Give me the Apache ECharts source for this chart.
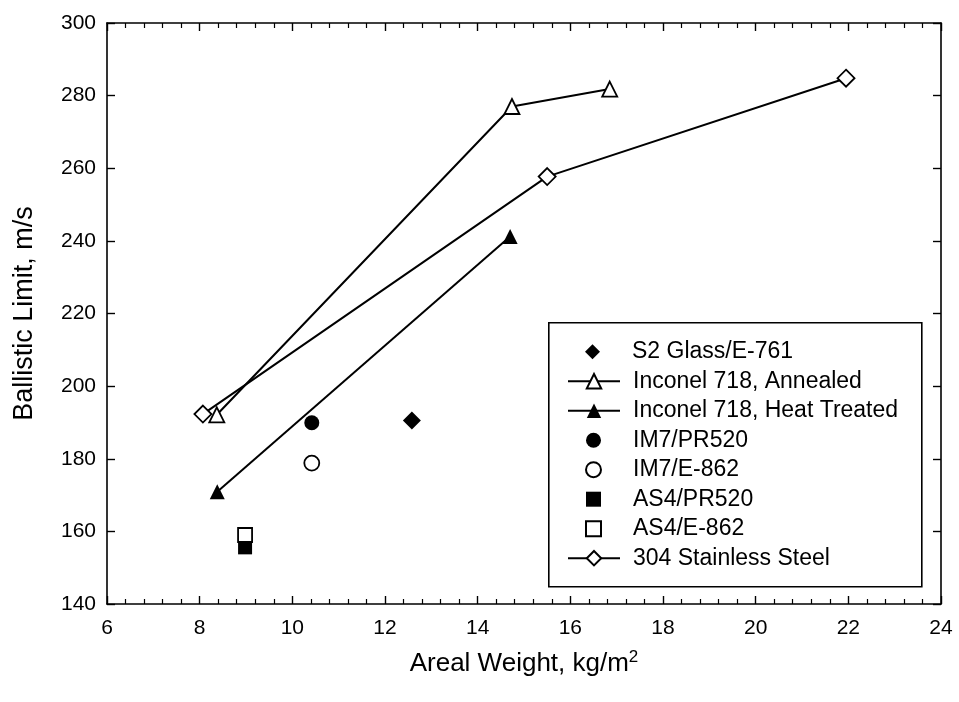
<!DOCTYPE html>
<html>
<head>
<meta charset="utf-8">
<script src="https://cdn.jsdelivr.net/npm/echarts@6/dist/echarts.min.js"></script>
<style>
html,body{margin:0;padding:0;background:#fff;}
#chart{width:959px;height:702px;}
</style>
</head>
<body>
<div id="chart"></div>
<script>
// ---- data ----
const seriesNames = ["S2 Glass/E-761","Inconel 718, Annealed","Inconel 718, Heat Treated","IM7/PR520","IM7/E-862","AS4/PR520","AS4/E-862","304 Stainless Steel"];
const s2GlassX = [12.58];          const s2GlassY = [190.5];
const inconelAnnX = [8.37, 14.74, 16.85];  const inconelAnnY = [192.1, 277.0, 281.8];
const inconelHtX = [8.38, 14.70];  const inconelHtY = [170.9, 241.2];
const im7Pr520X = [10.42];         const im7Pr520Y = [189.9];
const im7E862X = [10.42];          const im7E862Y = [178.8];
const as4Pr520X = [8.98];          const as4Pr520Y = [155.6];
const as4E862X = [8.98];           const as4E862Y = [159.0];
const ssX = [8.07, 15.50, 21.95];  const ssY = [192.3, 257.7, 284.8];
const xTicks = [6, 8, 10, 12, 14, 16, 18, 20, 22, 24];
const yTicks = [140, 160, 180, 200, 220, 240, 260, 280, 300];

const zip = (xs, ys) => xs.map((x, i) => [x, ys[i]]);
const FONT = "'Liberation Sans', Arial, sans-serif";

const chart = echarts.init(document.getElementById('chart'), null, {renderer: 'canvas'});

function scatterS(name, xs, ys, symbol, size, filled, z) {
  return {
    name, type: 'scatter', data: zip(xs, ys), symbol, symbolSize: size, z: z || 3,
    symbolKeepAspect: true,
    itemStyle: {color: filled ? '#000' : '#fff', borderColor: '#000', borderWidth: filled ? 0 : 1.8, opacity: 1},
    emphasis: {disabled: true}
  };
}
function lineS(name, xs, ys, symbol, size, filled) {
  return {
    name, type: 'line', data: zip(xs, ys), symbol, symbolSize: size, showSymbol: true,
    symbolKeepAspect: true,
    lineStyle: {color: '#000', width: 2},
    itemStyle: {color: filled ? '#000' : '#fff', borderColor: '#000', borderWidth: filled ? 0 : 1.8},
    emphasis: {disabled: true}, z: 2
  };
}

const axisCommon = {
  axisLine: {show: true, onZero: false, lineStyle: {color: '#000', width: 1.6}},
  splitLine: {show: false},
};

// legend rows (row pitch ~29.5px, first row centre ~351.7)
const ROW0 = 351.7, PITCH = 29.5;
function lineLegend(names, row) {
  return {
    orient: 'vertical', left: 567, top: ROW0 + row * PITCH - 12, padding: 0,
    itemWidth: 52, itemHeight: 18, itemGap: PITCH - 24,
    data: names, selectedMode: false,
    textStyle: {fontSize: 23, fontFamily: FONT, color: '#000', lineHeight: 24, padding: [0, 0, 0, 8]}
  };
}
function pointLegend(names, row) {
  return {
    orient: 'vertical', left: 585, top: ROW0 + row * PITCH - 12, padding: 0,
    itemWidth: 15, itemHeight: 15, itemGap: PITCH - 24,
    data: names, selectedMode: false,
    textStyle: {fontSize: 23, fontFamily: FONT, color: '#000', lineHeight: 24, padding: [0, 0, 0, 27]}
  };
}

const option = {
  animation: false,
  backgroundColor: '#fff',
  textStyle: {fontFamily: FONT, color: '#000'},
  grid: {left: 107, right: 18, top: 23, bottom: 98, containLabel: false},
  xAxis: [
    Object.assign({}, axisCommon, {
      type: 'value', min: xTicks[0], max: xTicks[xTicks.length - 1], interval: 2, position: 'bottom',
      name: 'Areal Weight, kg/m{sup|2}', nameLocation: 'middle', nameGap: 45,
      nameTextStyle: {fontSize: 26, fontFamily: FONT, color: '#000',
        rich: {sup: {fontSize: 17, verticalAlign: 'top', padding: [0, 0, 12, 0], fontFamily: FONT, color: '#000'}}},
      axisTick: {show: true, inside: true, length: 8, lineStyle: {color: '#000', width: 1.4}},
      minorTick: {show: true, splitNumber: 5, length: 5, lineStyle: {color: '#000', width: 1.2}},
      axisLabel: {fontSize: 21, fontFamily: FONT, color: '#000', margin: 14}
    }),
    Object.assign({}, axisCommon, {
      type: 'value', min: xTicks[0], max: xTicks[xTicks.length - 1], interval: 2, position: 'top',
      axisTick: {show: true, inside: true, length: 8, lineStyle: {color: '#000', width: 1.4}},
      minorTick: {show: true, splitNumber: 5, length: 5, lineStyle: {color: '#000', width: 1.2}},
      axisLabel: {show: false}
    })
  ],
  yAxis: [
    Object.assign({}, axisCommon, {
      type: 'value', min: yTicks[0], max: yTicks[yTicks.length - 1], interval: 20, position: 'left',
      name: 'Ballistic Limit, m/s', nameLocation: 'middle', nameGap: 69, nameRotate: 90,
      nameTextStyle: {fontSize: 27, fontFamily: FONT, color: '#000'},
      axisTick: {show: true, inside: true, length: 8, lineStyle: {color: '#000', width: 1.4}},
      axisLabel: {fontSize: 21, fontFamily: FONT, color: '#000', margin: 11}
    }),
    Object.assign({}, axisCommon, {
      type: 'value', min: yTicks[0], max: yTicks[yTicks.length - 1], interval: 20, position: 'right',
      axisTick: {show: true, inside: true, length: 8, lineStyle: {color: '#000', width: 1.4}},
      axisLabel: {show: false}
    })
  ],
  legend: [
    pointLegend([seriesNames[0]], 0),
    lineLegend([seriesNames[1], seriesNames[2]], 1),
    pointLegend([seriesNames[3], seriesNames[4], seriesNames[5], seriesNames[6]], 3),
    lineLegend([seriesNames[7]], 7)
  ],
  graphic: [{
    type: 'rect', left: 548, top: 322, z: 0,
    shape: {width: 373, height: 264},
    style: {fill: '#fff', stroke: '#000', lineWidth: 1.6}
  }],
  series: [
    scatterS(seriesNames[0], s2GlassX, s2GlassY, 'diamond', 18, true),
    lineS(seriesNames[1], inconelAnnX, inconelAnnY, 'triangle', 15, false),
    lineS(seriesNames[2], inconelHtX, inconelHtY, 'triangle', 15, true),
    scatterS(seriesNames[3], im7Pr520X, im7Pr520Y, 'circle', 15, true),
    scatterS(seriesNames[4], im7E862X, im7E862Y, 'circle', 15, false),
    scatterS(seriesNames[5], as4Pr520X, as4Pr520Y, 'rect', 14, true, 3),
    scatterS(seriesNames[6], as4E862X, as4E862Y, 'rect', 14, false, 4),
    lineS(seriesNames[7], ssX, ssY, 'diamond', 17, false)
  ]
};
chart.setOption(option);
</script>
</body>
</html>
